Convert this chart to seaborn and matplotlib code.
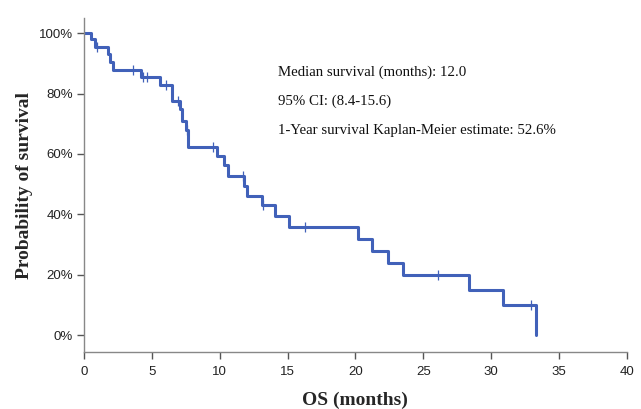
import numpy as np
import pandas as pd
import matplotlib
matplotlib.use("Agg")
import matplotlib.pyplot as plt
import seaborn as sns

# Kaplan-Meier step values (months, % surviving after the step)
event_times = [0, 0.5, 0.8, 1.8, 1.95, 2.15, 4.2, 5.6, 6.5, 7.05, 7.2, 7.5, 7.7,
               9.8, 10.35, 10.6, 11.8, 12.0, 13.1, 14.1, 15.1, 20.2, 21.2, 22.4,
               23.5, 28.4, 30.9, 33.3]
survival = [100, 98, 95.5, 93, 90.5, 87.8, 85.5, 82.9, 77.5, 75, 71, 68, 62.2,
            59.2, 56.2, 52.8, 49.5, 46.2, 43, 39.4, 35.8, 31.8, 27.8, 23.9,
            19.9, 14.9, 10, 0]
censor_times = [0.95, 3.6, 4.35, 4.65, 6.05, 6.95, 7.6, 9.5, 11.7, 13.2, 16.3,
                26.1, 32.9]

x_ticks = [0, 5, 10, 15, 20, 25, 30, 35, 40]
y_ticks = [0, 20, 40, 60, 80, 100]
notes = ["Median survival (months): 12.0",
         "95% CI: (8.4-15.6)",
         "1-Year survival Kaplan-Meier estimate: 52.6%"]

km = pd.DataFrame({"time": event_times, "surv": survival})
idx = np.searchsorted(event_times, censor_times, side="right") - 1
cens = pd.DataFrame({"time": censor_times, "surv": np.array(survival)[idx]})

sns.set_style("white")
plt.rcParams["font.family"] = ["Liberation Sans", "DejaVu Sans"]

line_col = "#4161b9"
fig = plt.figure(figsize=(6.41, 4.09), dpi=100)
ax = fig.add_axes([0.131, 0.139, 0.847, 0.817])

sns.lineplot(data=km, x="time", y="surv", drawstyle="steps-post", color=line_col,
             linewidth=2.2, ax=ax, estimator=None, sort=False)
sns.scatterplot(data=cens, x="time", y="surv", marker="|", s=50, color=line_col,
                linewidth=0.9, ax=ax, zorder=3)

ax.set_xlim(0, 40)
ax.set_ylim(-5.6, 105)
ax.set_xticks(x_ticks)
ax.set_yticks(y_ticks)
ax.set_yticklabels([f"{v}%" for v in y_ticks])
ax.tick_params(axis="both", direction="out", length=5, width=1, color="#555555",
               labelsize=9.5, labelcolor="#222222", bottom=True, left=True, pad=3)
ax.tick_params(axis="x", pad=5)

for side in ["top", "right"]:
    ax.spines[side].set_visible(False)
for side in ["left", "bottom"]:
    ax.spines[side].set_color("#888888")
    ax.spines[side].set_linewidth(1)

serif = ["Liberation Serif", "DejaVu Serif"]
ax.set_xlabel("OS (months)", fontsize=14, fontweight="bold", family=serif, labelpad=10)
ax.set_ylabel("Probability of survival", fontsize=14, fontweight="bold", family=serif,
              labelpad=4)

for i, txt in enumerate(notes):
    ax.text(14.3, 87.1 - i * 9.6, txt, fontsize=10.7, family=serif, color="#111111",
            va="center", ha="left")

fig.savefig("out.png", dpi=100)
